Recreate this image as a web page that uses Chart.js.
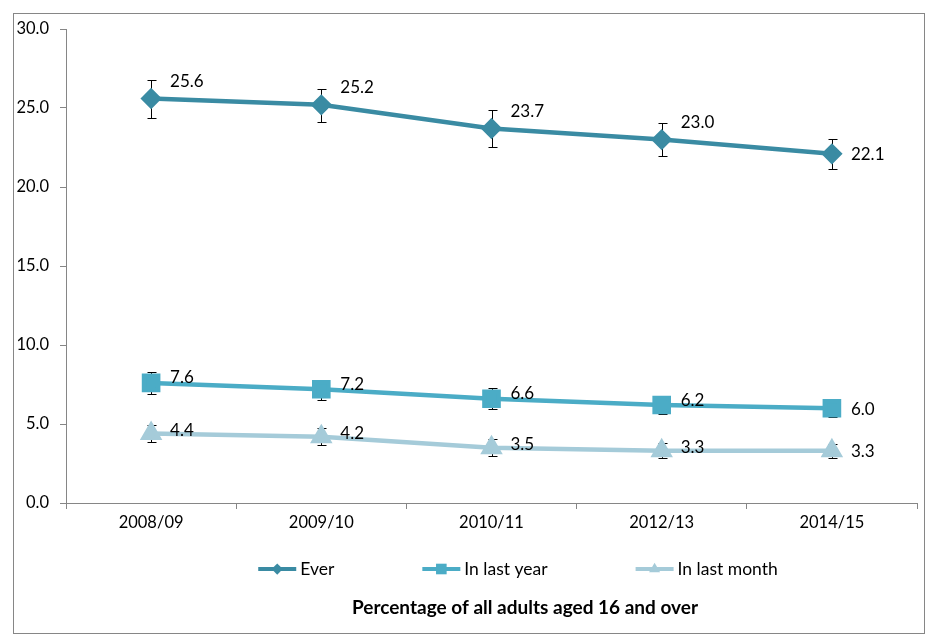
<!DOCTYPE html>
<html>
<head>
<meta charset="utf-8">
<script src="https://cdn.jsdelivr.net/npm/chart.js@4.4.1/dist/chart.umd.min.js"></script>
<style>
  html, body { margin: 0; padding: 0; background: #fff; }
  canvas { display: block; }
</style>
</head>
<body>
<canvas id="drugChart" width="935" height="644"></canvas>
<script>
// data
const categories = ["2008/09", "2009/10", "2010/11", "2012/13", "2014/15"];

const ever = [25.6, 25.2, 23.7, 23.0, 22.1];
const everLow = [24.35, 24.1, 22.55, 21.95, 21.15];
const everHigh = [26.8, 26.2, 24.85, 24.05, 23.05];

const lastYear = [7.6, 7.2, 6.6, 6.2, 6.0];
const lastYearLow = [6.9, 6.55, 5.95, 5.65, 5.45];
const lastYearHigh = [8.3, 7.8, 7.3, 6.8, 6.5];

const lastMonth = [4.4, 4.2, 3.5, 3.3, 3.3];
const lastMonthLow = [3.85, 3.7, 3.0, 2.85, 2.85];
const lastMonthHigh = [4.95, 4.75, 4.05, 3.8, 3.75];

const yMin = 0;
const yMax = 30;
const yStep = 5;

const titleText = "Percentage of all adults aged 16 and over";

const FONT = "Lato, 'Open Sans', sans-serif";
const AXIS_GREY = "#868686";

// Error bars ---------
const errorBars = {
  id: "errorBars",
  beforeDatasetsDraw(chart) {
    const ctx = chart.ctx;
    const y = chart.scales.y;
    ctx.save();
    ctx.strokeStyle = "#000";
    ctx.lineWidth = 1;
    chart.data.datasets.forEach((ds, i) => {
      chart.getDatasetMeta(i).data.forEach((pt, j) => {
        const px = Math.round(pt.x) + 0.5;
        const top = Math.round(y.getPixelForValue(ds.high[j])) + 0.5;
        const bot = Math.round(y.getPixelForValue(ds.low[j])) + 0.5;
        ctx.beginPath();
        ctx.moveTo(px, top);
        ctx.lineTo(px, bot);
        ctx.moveTo(px - 4, top);
        ctx.lineTo(px + 5, top);
        ctx.moveTo(px - 4, bot);
        ctx.lineTo(px + 5, bot);
        ctx.stroke();
      });
    });
    ctx.restore();
  }
};

// Value labels ---------
const valueLabels = {
  id: "valueLabels",
  afterDatasetsDraw(chart) {
    const ctx = chart.ctx;
    ctx.save();
    ctx.font = "17px " + FONT;
    ctx.fillStyle = "#000";
    ctx.textAlign = "left";
    ctx.textBaseline = "middle";
    chart.data.datasets.forEach((ds, i) => {
      const pts = chart.getDatasetMeta(i).data;
      pts.forEach((pt, j) => {
        const last = j === pts.length - 1;
        const dy = last ? 1 : ds.labelDy;
        ctx.fillText(ds.data[j].toFixed(1), pt.x + 19, pt.y + dy);
      });
    });
    ctx.restore();
  }
};

// Frame, legend and caption ---------
const frame = {
  id: "frame",
  afterDraw(chart) {
    const ctx = chart.ctx;
    ctx.save();
    ctx.strokeStyle = AXIS_GREY;
    ctx.lineWidth = 1;
    ctx.strokeRect(13.5, 13.5, 911, 620);

    // legend
    ctx.font = "17.5px " + FONT;
    const sample = 38;
    const gap = 88;
    const items = chart.data.datasets.map(ds => ({
      ds: ds,
      w: sample + 4 + ctx.measureText(ds.label).width
    }));
    const total = items.reduce((s, it) => s + it.w, 0) + gap * (items.length - 1);
    let lx = 518 - total / 2;
    const ly = 569;
    items.forEach(it => {
      const ds = it.ds;
      ctx.strokeStyle = ds.borderColor;
      ctx.lineWidth = 4;
      ctx.beginPath();
      ctx.moveTo(lx, ly);
      ctx.lineTo(lx + sample, ly);
      ctx.stroke();
      ctx.fillStyle = ds.borderColor;
      Chart.helpers.drawPoint(ctx, {
        pointStyle: ds.pointStyle,
        radius: ds.pointRadius * 0.75,
        borderWidth: 0
      }, lx + sample / 2, ly);
      ctx.fillStyle = "#000";
      ctx.textAlign = "left";
      ctx.textBaseline = "middle";
      ctx.fillText(ds.label, lx + sample + 4, ly);
      lx += it.w + gap;
    });

    // caption
    ctx.font = "bold 19px " + FONT;
    ctx.textAlign = "center";
    ctx.fillText(titleText, 525, 608);
    ctx.restore();
  }
};

new Chart(document.getElementById("drugChart").getContext("2d"), {
  type: "line",
  data: {
    labels: categories,
    datasets: [
      {
        label: "Ever",
        data: ever,
        low: everLow,
        high: everHigh,
        labelDy: -17,
        borderColor: "#3A8BA3",
        backgroundColor: "#3A8BA3",
        borderWidth: 4.5,
        pointStyle: "rectRot",
        pointRadius: 7.5
      },
      {
        label: "In last year",
        data: lastYear,
        low: lastYearLow,
        high: lastYearHigh,
        labelDy: -5,
        borderColor: "#4BACC6",
        backgroundColor: "#4BACC6",
        borderWidth: 4.5,
        pointStyle: "rect",
        pointRadius: 10
      },
      {
        label: "In last month",
        data: lastMonth,
        low: lastMonthLow,
        high: lastMonthHigh,
        labelDy: -3,
        borderColor: "#A5CBD9",
        backgroundColor: "#A5CBD9",
        borderWidth: 4.5,
        pointStyle: "triangle",
        pointRadius: 8.5
      }
    ]
  },
  options: {
    responsive: false,
    animation: false,
    layout: { padding: { left: 0, top: 29, right: 18, bottom: 0 } },
    elements: {
      line: { tension: 0 },
      point: { borderWidth: 0, hoverRadius: 8 }
    },
    plugins: {
      legend: { display: false },
      tooltip: { enabled: false }
    },
    scales: {
      x: {
        offset: true,
        grid: {
          offset: true,
          drawOnChartArea: false,
          color: AXIS_GREY,
          tickLength: 6
        },
        border: { color: AXIS_GREY },
        ticks: {
          color: "#000",
          padding: 4,
          maxRotation: 0,
          font: { family: FONT, size: 16.5 }
        },
        afterFit: scale => { scale.height = 141; }
      },
      y: {
        min: yMin,
        max: yMax,
        grid: {
          drawOnChartArea: false,
          color: AXIS_GREY,
          tickLength: 6
        },
        border: { color: AXIS_GREY },
        ticks: {
          stepSize: yStep,
          color: "#000",
          padding: 11,
          font: { family: FONT, size: 16.5 },
          callback: v => v.toFixed(1)
        },
        afterFit: scale => { scale.width = 66; }
      }
    }
  },
  plugins: [errorBars, valueLabels, frame]
});
</script>
</body>
</html>
